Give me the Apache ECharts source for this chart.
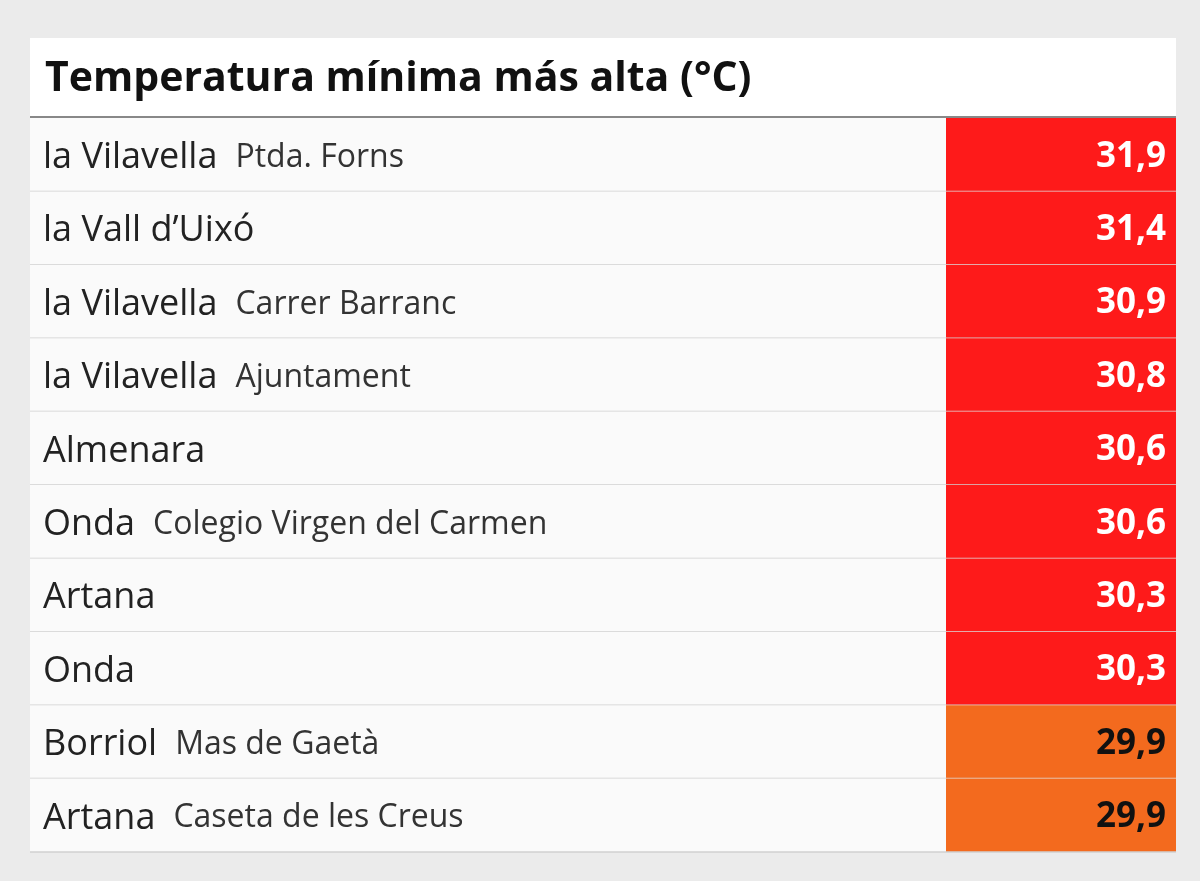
<!DOCTYPE html>
<html>
<head>
<meta charset="utf-8">
<script src="https://cdn.jsdelivr.net/npm/echarts@6/dist/echarts.min.js"></script>
<style>
  html, body { margin: 0; padding: 0; background: #ebebeb; }
  #main { width: 1200px; height: 881px; }
</style>
</head>
<body>
<div id="main"></div>
<script>
// table data
const places = ['la Vilavella', 'la Vall d\u2019Uixó', 'la Vilavella', 'la Vilavella', 'Almenara',
  'Onda', 'Artana', 'Onda', 'Borriol', 'Artana']
const stations = ['Ptda. Forns', '', 'Carrer Barranc', 'Ajuntament', '',
  'Colegio Virgen del Carmen', '', '', 'Mas de Gaetà', 'Caseta de les Creus']
const temps = [31.9, 31.4, 30.9, 30.8, 30.6, 30.6, 30.3, 30.3, 29.9, 29.9]

const rowIdx = places.map((p, i) => i)

var myChart = echarts.init(document.getElementById('main'))

myChart.setOption({
  backgroundColor: '#ebebeb',
  animation: false,
  graphic: [
    { type: 'rect', shape: { x: 30, y: 38, width: 1146, height: 80 }, style: { fill: '#ffffff' } },
    { type: 'text', x: 45, y: 79, style: { text: 'Temperatura mínima más alta (°C)', font: 'bold 41px "Open Sans"', fill: '#111', textVerticalAlign: 'middle' } },
    { type: 'line', shape: { x1: 30, y1: 117, x2: 1176, y2: 117 }, style: { stroke: '#888', lineWidth: 2 }, z: 10 }
  ],
  grid: { left: 30, right: 24, top: 118, bottom: 29 },
  xAxis: { type: 'value', min: 0, max: 1, show: false },
  yAxis: { type: 'category', inverse: true, show: false, data: rowIdx },
  series: [{
    type: 'custom',
    data: rowIdx.map(i => [i, temps[i]]),
    encode: { y: 0 },
    renderItem: function (params, api) {
      const i = params.dataIndex
      const cs = params.coordSys
      const c = api.coord([0, api.value(0)])
      const h = api.size([0, 1])[1]
      const top = c[1] - h / 2
      const v = api.value(1)
      const cellW = 230
      const name = places[i]
      const sub = stations[i]
      return {
        type: 'group',
        children: [
          { type: 'rect', shape: { x: cs.x, y: top, width: cs.width, height: h }, style: { fill: '#fafafa' } },
          { type: 'rect', shape: { x: cs.x + cs.width - cellW, y: top, width: cellW, height: h },
            style: { fill: v >= 30 ? '#fe1a1a' : '#f36a1e' } },
          { type: 'line', shape: { x1: cs.x, y1: top + h, x2: cs.x + cs.width, y2: top + h },
            style: { stroke: '#d0d0d0', lineWidth: 1.5 } },
          { type: 'text', x: cs.x + 13, y: c[1] + 3,
            style: {
              text: '{a|' + name + '}' + (sub ? '{b|' + sub + '}' : ''),
              verticalAlign: 'middle',
              rich: {
                a: { font: '36px "Open Sans"', fill: '#222' },
                b: { font: '32px "Open Sans"', fill: '#333', padding: [0, 0, 0, 18] }
              }
            } },
          { type: 'text', x: cs.x + cs.width - 10, y: c[1] + 2,
            style: { text: v.toFixed(1).replace('.', ','), font: 'bold 35px "Open Sans"',
              fill: v >= 30 ? '#fff' : '#111', align: 'right', verticalAlign: 'middle' } }
        ]
      }
    }
  }]
})
</script>
</body>
</html>
